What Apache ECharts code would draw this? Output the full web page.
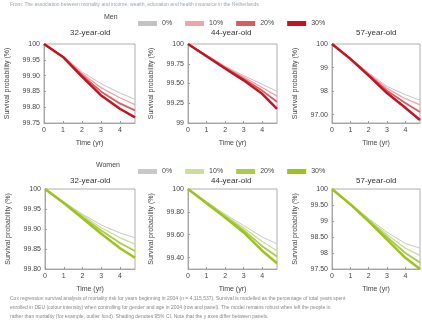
<!DOCTYPE html>
<html>
<head>
<meta charset="utf-8">
<script src="https://cdn.jsdelivr.net/npm/echarts@6/dist/echarts.min.js"></script>
<style>
  html, body { margin: 0; padding: 0; background: #fff; }
  #chart { width: 422px; height: 330px; }
</style>
</head>
<body>
<div id="chart"></div>
<script>
// time points (yr) at which the curves are read
const times = [0, 1, 2, 3, 4, 4.8];
const groups = ["0%", "10%", "20%", "30%"];
const panelTitles = ["32-year-old", "44-year-old", "57-year-old"];

// survival probability (%), one row per group 0% .. 30%
const men32 = [
  [100, 99.962, 99.912, 99.875, 99.845, 99.825],
  [100, 99.961, 99.907, 99.862, 99.83, 99.808],
  [100, 99.96, 99.902, 99.85, 99.812, 99.79],
  [100, 99.959, 99.897, 99.838, 99.795, 99.768]
];
const men44 = [
  [100, 99.86, 99.72, 99.6, 99.49, 99.4],
  [100, 99.855, 99.71, 99.58, 99.45, 99.34],
  [100, 99.85, 99.7, 99.56, 99.41, 99.27],
  [100, 99.845, 99.69, 99.54, 99.37, 99.18]
];
const men57 = [
  [100, 99.4, 98.78, 98.2, 97.85, 97.62],
  [100, 99.39, 98.74, 98.12, 97.68, 97.42],
  [100, 99.38, 98.7, 98.02, 97.5, 97.12],
  [100, 99.37, 98.66, 97.92, 97.3, 96.78]
];
const women32 = [
  [100, 99.968, 99.937, 99.91, 99.89, 99.878],
  [100, 99.967, 99.934, 99.903, 99.878, 99.862],
  [100, 99.966, 99.93, 99.896, 99.865, 99.845],
  [100, 99.965, 99.927, 99.888, 99.852, 99.828]
];
const women44 = [
  [100, 99.89, 99.78, 99.68, 99.58, 99.52],
  [100, 99.885, 99.77, 99.66, 99.54, 99.46],
  [100, 99.88, 99.76, 99.64, 99.5, 99.41],
  [100, 99.875, 99.75, 99.62, 99.46, 99.35]
];
const women57 = [
  [100, 99.55, 99.08, 98.65, 98.3, 98.15],
  [100, 99.54, 99.05, 98.58, 98.15, 97.92],
  [100, 99.53, 99.02, 98.5, 98.0, 97.7],
  [100, 99.52, 98.99, 98.42, 97.85, 97.5]
];

// y tick values and their labels per panel
const yTicks = [
  [99.75, 99.8, 99.85, 99.9, 99.95, 100],
  [99, 99.25, 99.5, 99.75, 100],
  [97, 98, 99, 100],
  [99.8, 99.85, 99.9, 99.95, 100],
  [99.4, 99.6, 99.8, 100],
  [97.5, 98, 98.5, 99, 99.5, 100]
];
const yTickLabels = [
  ["99.75", "99.80", "99.85", "99.90", "99.95", "100"],
  ["99", "99.25", "99.50", "99.75", "100"],
  ["97.00", "98", "99", "100"],
  ["99.80", "99.85", "99.90", "99.95", "100"],
  ["99.40", "99.60", "99.80", "100"],
  ["97.50", "98", "98.50", "99", "99.50", "100"]
];
const yMin = [99.75, 99, 96.65, 99.8, 99.3, 97.5];
const xTicks = [0, 1, 2, 3, 4];

const panels = [men32, men44, men57, women32, women44, women57];
const menColors = ["#c4c4c4", "#eaa6a9", "#d85c66", "#c3141f"];
const womenColors = ["#c8c8c8", "#cadd9f", "#aacb4c", "#9cc41c"];
const lineWidths = [1, 1.3, 1.8, 2.5];

const FONT = "Liberation Sans";
const gridPos = [
  { left: 44, top: 44, width: 91, height: 79 },
  { left: 188, top: 44, width: 89, height: 79 },
  { left: 332, top: 44, width: 88, height: 79 },
  { left: 45, top: 189, width: 90, height: 80 },
  { left: 188, top: 189, width: 89, height: 80 },
  { left: 332, top: 189, width: 88, height: 80 }
];

const chart = echarts.init(document.getElementById("chart"), null, { renderer: "canvas" });

const grid = gridPos.map(g => ({
  left: g.left, top: g.top, width: g.width, height: g.height,
  show: true, borderColor: "#999", borderWidth: 0.8
}));

const xAxis = gridPos.map((g, i) => ({
  type: "value", gridIndex: i, min: 0, max: 4.8,
  name: "Time (yr)", nameLocation: "middle", nameGap: 17,
  nameTextStyle: { fontFamily: FONT, fontSize: 7, color: "#444" },
  axisLine: { show: true, lineStyle: { color: "#999", width: 0.8 } },
  axisTick: { show: true, inside: true, length: 2, customValues: xTicks, lineStyle: { color: "#999" } },
  axisLabel: { customValues: xTicks, fontFamily: FONT, fontSize: 7, color: "#444", margin: 4 },
  splitLine: { show: false }
}));

const yAxis = gridPos.map((g, i) => ({
  type: "value", gridIndex: i, min: yMin[i], max: 100,
  name: "Survival probability (%)", nameLocation: "middle", nameGap: 33,
  nameTextStyle: { fontFamily: FONT, fontSize: 7, color: "#444" },
  axisLine: { show: true, lineStyle: { color: "#999", width: 0.8 } },
  axisTick: { show: true, inside: true, length: 2, customValues: yTicks[i], lineStyle: { color: "#999" } },
  axisLabel: {
    customValues: yTicks[i], fontFamily: FONT, fontSize: 7, color: "#444", margin: 4,
    formatter: v => {
      const k = yTicks[i].findIndex(t => Math.abs(t - v) < 1e-6);
      return k >= 0 ? yTickLabels[i][k] : "";
    }
  },
  splitLine: { show: false }
}));

const series = [];
panels.forEach((panel, i) => {
  const isMen = i < 3;
  panel.forEach((vals, k) => {
    series.push({
      type: "line",
      name: (isMen ? "Men " : "Women ") + groups[k],
      xAxisIndex: i, yAxisIndex: i,
      data: times.map((t, j) => [t, vals[j]]),
      showSymbol: false, symbol: "none",
      z: 2 + k,
      lineStyle: { color: (isMen ? menColors : womenColors)[k], width: lineWidths[k] },
      itemStyle: { color: (isMen ? menColors : womenColors)[k] }
    });
  });
});

const legendBase = {
  left: 133, itemWidth: 19, itemHeight: 5, itemGap: 13, icon: "rect",
  textStyle: { fontFamily: FONT, fontSize: 7, color: "#444" },
  formatter: n => n.split(" ")[1],
  selectedMode: false
};

const option = {
  animation: false,
  backgroundColor: "#fff",
  grid: grid,
  xAxis: xAxis,
  yAxis: yAxis,
  legend: [
    Object.assign({ top: 15, data: groups.map(g => "Men " + g) }, legendBase),
    Object.assign({ top: 163, data: groups.map(g => "Women " + g) }, legendBase)
  ],
  series: series,
  graphic: [
    { type: "text", left: 10, top: 2,
      style: { text: "From: The association between mortality and income, wealth, education and health insurance in the Netherlands",
        fontFamily: FONT, fontSize: 5, fill: "#9aa6b8" } },
    { type: "text", left: 104, top: 14, style: { text: "Men", fontFamily: FONT, fontSize: 7, fill: "#444" } },
    { type: "text", left: 96, top: 162, style: { text: "Women", fontFamily: FONT, fontSize: 7, fill: "#444" } },
    { type: "text", left: 70, top: 29, style: { text: panelTitles[0], fontFamily: FONT, fontSize: 8, fill: "#333" } },
    { type: "text", left: 211, top: 29, style: { text: panelTitles[1], fontFamily: FONT, fontSize: 8, fill: "#333" } },
    { type: "text", left: 356, top: 29, style: { text: panelTitles[2], fontFamily: FONT, fontSize: 8, fill: "#333" } },
    { type: "text", left: 70, top: 177, style: { text: panelTitles[0], fontFamily: FONT, fontSize: 8, fill: "#333" } },
    { type: "text", left: 211, top: 177, style: { text: panelTitles[1], fontFamily: FONT, fontSize: 8, fill: "#333" } },
    { type: "text", left: 356, top: 177, style: { text: panelTitles[2], fontFamily: FONT, fontSize: 8, fill: "#333" } },
    { type: "text", left: 10, top: 294,
      style: { text: "Cox regression survival analysis of mortality risk for years beginning in 2004 (n = 4,115,537). Survival is modelled as the percentage of total years spent\n" +
        "enrolled in DEU (colour intensity) when controlling for gender and age in 2004 (row and panel). The model remains robust when left the people in\n" +
        "rather than mortality (for example, outlier fund). Shading denotes 95% CI. Note that the y axes differ between panels.",
        fontFamily: FONT, fontSize: 5, lineHeight: 9, fill: "#888" } }
  ]
};

chart.setOption(option);
</script>
</body>
</html>
